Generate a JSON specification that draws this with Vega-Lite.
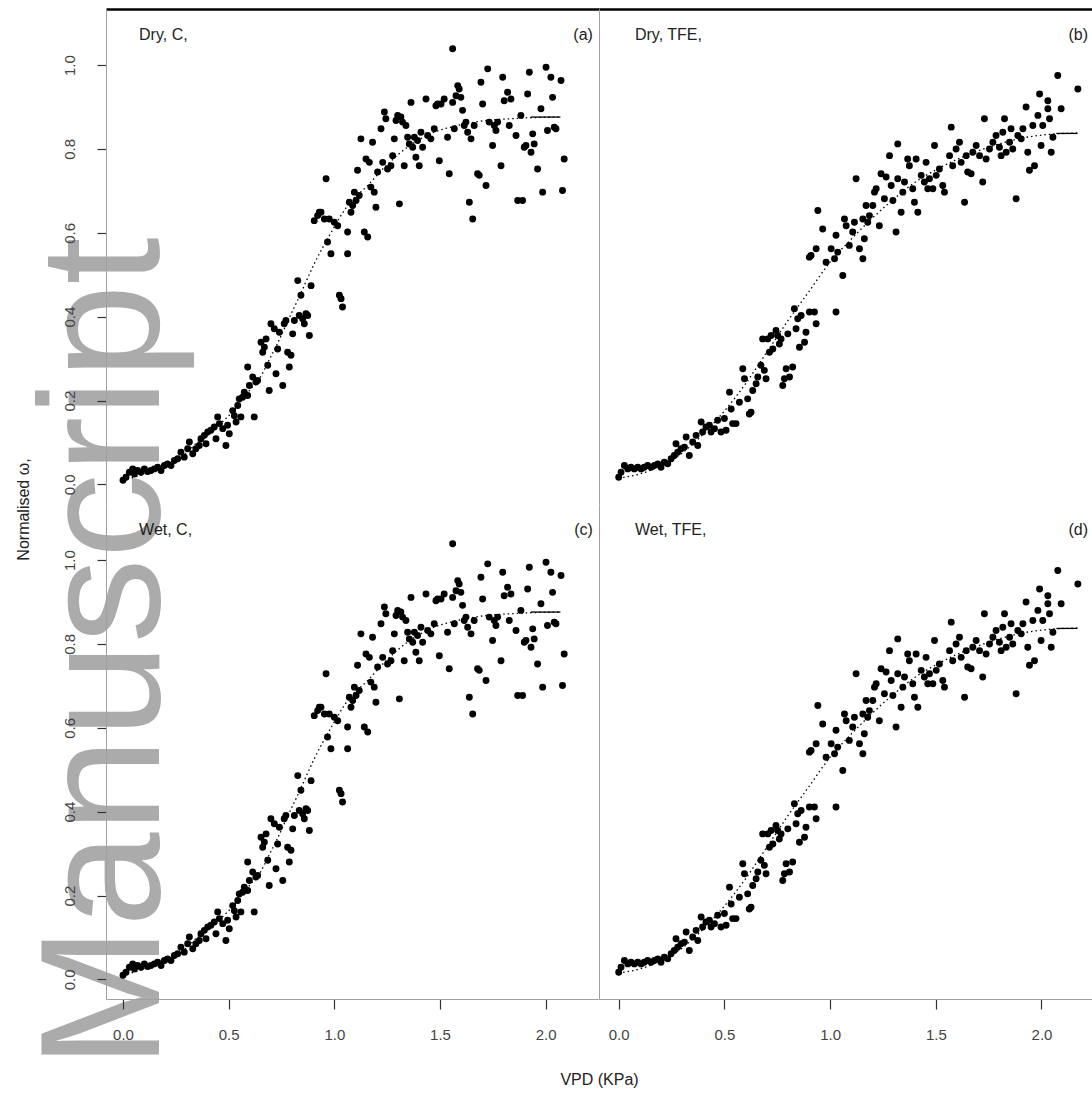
{
"$schema": "https://vega.github.io/schema/vega-lite/v6.json",
"background": "white",
"padding": {"left": 14, "top": 9, "right": 0, "bottom": 4},
"autosize": {"type": "pad"},
"bounds": "flush",
"spacing": 0,
"columns": 2,
"datasets": {
"A": [
{"v":0.0,"g":0.010},{"v":0.014,"g":0.017},{"v":0.030,"g":0.029},{"v":0.046,"g":0.037},{"v":0.054,"g":0.025},{"v":0.069,"g":0.033},{"v":0.085,"g":0.029},{"v":0.101,"g":0.037},{"v":0.117,"g":0.031},{"v":0.132,"g":0.033},{"v":0.148,"g":0.037},{"v":0.164,"g":0.041},{"v":0.180,"g":0.033},{"v":0.196,"g":0.045},{"v":0.211,"g":0.049},{"v":0.227,"g":0.045},{"v":0.243,"g":0.057},{"v":0.259,"g":0.061},{"v":0.274,"g":0.077},{"v":0.290,"g":0.065},{"v":0.306,"g":0.085},{"v":0.314,"g":0.101},{"v":0.330,"g":0.073},{"v":0.345,"g":0.085},{"v":0.361,"g":0.093},{"v":0.369,"g":0.109},{"v":0.385,"g":0.117},{"v":0.393,"g":0.097},{"v":0.401,"g":0.125},{"v":0.416,"g":0.129},{"v":0.432,"g":0.137},{"v":0.440,"g":0.109},{"v":0.448,"g":0.161},{"v":0.456,"g":0.145},{"v":0.472,"g":0.133},{"v":0.487,"g":0.093},{"v":0.495,"g":0.141},{"v":0.503,"g":0.121},{"v":0.519,"g":0.176},{"v":0.527,"g":0.164},{"v":0.535,"g":0.149},{"v":0.543,"g":0.188},{"v":0.550,"g":0.204},{"v":0.558,"g":0.161},{"v":0.566,"g":0.208},{"v":0.574,"g":0.220},{"v":0.590,"g":0.212},{"v":0.598,"g":0.236},{"v":0.590,"g":0.280},{"v":0.614,"g":0.256},{"v":0.621,"g":0.161},{"v":0.629,"g":0.244},{"v":0.637,"g":0.248},{"v":0.653,"g":0.339},{"v":0.661,"g":0.315},{"v":0.669,"g":0.327},{"v":0.677,"g":0.347},{"v":0.685,"g":0.284},{"v":0.692,"g":0.224},{"v":0.700,"g":0.383},{"v":0.716,"g":0.371},{"v":0.724,"g":0.264},{"v":0.732,"g":0.323},{"v":0.740,"g":0.363},{"v":0.756,"g":0.236},{"v":0.763,"g":0.383},{"v":0.771,"g":0.391},{"v":0.779,"g":0.315},{"v":0.787,"g":0.280},{"v":0.795,"g":0.308},{"v":0.803,"g":0.359},{"v":0.811,"g":0.391},{"v":0.827,"g":0.486},{"v":0.834,"g":0.403},{"v":0.842,"g":0.451},{"v":0.850,"g":0.395},{"v":0.858,"g":0.383},{"v":0.866,"g":0.407},{"v":0.874,"g":0.403},{"v":0.882,"g":0.355},{"v":0.890,"g":0.474},{"v":0.905,"g":0.629},{"v":0.921,"g":0.641},{"v":0.929,"g":0.649},{"v":0.937,"g":0.649},{"v":0.953,"g":0.633},{"v":0.961,"g":0.729},{"v":0.968,"g":0.578},{"v":0.976,"g":0.633},{"v":0.984,"g":0.550},{"v":1.000,"g":0.625},{"v":1.016,"g":0.617},{"v":1.024,"g":0.451},{"v":1.032,"g":0.443},{"v":1.039,"g":0.423},{"v":1.063,"g":0.602},{"v":1.063,"g":0.550},{"v":1.071,"g":0.673},{"v":1.079,"g":0.649},{"v":1.087,"g":0.665},{"v":1.095,"g":0.697},{"v":1.103,"g":0.677},{"v":1.110,"g":0.749},{"v":1.118,"g":0.689},{"v":1.126,"g":0.824},{"v":1.142,"g":0.602},{"v":1.150,"g":0.776},{"v":1.158,"g":0.590},{"v":1.166,"g":0.768},{"v":1.173,"g":0.709},{"v":1.181,"g":0.816},{"v":1.189,"g":0.697},{"v":1.197,"g":0.661},{"v":1.205,"g":0.745},{"v":1.221,"g":0.848},{"v":1.229,"g":0.768},{"v":1.237,"g":0.888},{"v":1.244,"g":0.872},{"v":1.252,"g":0.752},{"v":1.268,"g":0.760},{"v":1.276,"g":0.784},{"v":1.284,"g":0.824},{"v":1.292,"g":0.868},{"v":1.300,"g":0.880},{"v":1.308,"g":0.669},{"v":1.315,"g":0.876},{"v":1.323,"g":0.864},{"v":1.331,"g":0.760},{"v":1.339,"g":0.856},{"v":1.347,"g":0.828},{"v":1.355,"g":0.812},{"v":1.363,"g":0.911},{"v":1.371,"g":0.804},{"v":1.379,"g":0.828},{"v":1.386,"g":0.780},{"v":1.394,"g":0.820},{"v":1.402,"g":0.760},{"v":1.410,"g":0.840},{"v":1.418,"g":0.804},{"v":1.434,"g":0.919},{"v":1.442,"g":0.832},{"v":1.457,"g":0.824},{"v":1.473,"g":0.848},{"v":1.481,"g":0.903},{"v":1.489,"g":0.907},{"v":1.497,"g":0.772},{"v":1.505,"g":0.907},{"v":1.520,"g":0.919},{"v":1.536,"g":0.828},{"v":1.544,"g":0.741},{"v":1.560,"g":1.039},{"v":1.560,"g":0.911},{"v":1.568,"g":0.848},{"v":1.576,"g":0.927},{"v":1.584,"g":0.951},{"v":1.591,"g":0.943},{"v":1.599,"g":0.923},{"v":1.607,"g":0.892},{"v":1.615,"g":0.856},{"v":1.623,"g":0.864},{"v":1.631,"g":0.840},{"v":1.639,"g":0.673},{"v":1.647,"g":0.824},{"v":1.655,"g":0.633},{"v":1.662,"g":0.856},{"v":1.678,"g":0.741},{"v":1.686,"g":0.737},{"v":1.694,"g":0.959},{"v":1.702,"g":0.907},{"v":1.718,"g":0.713},{"v":1.726,"g":0.991},{"v":1.733,"g":0.864},{"v":1.749,"g":0.808},{"v":1.757,"g":0.856},{"v":1.765,"g":0.844},{"v":1.773,"g":0.864},{"v":1.789,"g":0.760},{"v":1.797,"g":0.971},{"v":1.804,"g":0.915},{"v":1.820,"g":0.935},{"v":1.828,"g":0.856},{"v":1.836,"g":0.919},{"v":1.860,"g":0.832},{"v":1.868,"g":0.677},{"v":1.883,"g":0.880},{"v":1.891,"g":0.677},{"v":1.899,"g":0.804},{"v":1.907,"g":0.808},{"v":1.915,"g":0.931},{"v":1.923,"g":0.983},{"v":1.931,"g":0.792},{"v":1.939,"g":0.836},{"v":1.946,"g":0.812},{"v":1.962,"g":0.752},{"v":1.978,"g":0.896},{"v":1.986,"g":0.697},{"v":2.002,"g":0.995},{"v":2.009,"g":0.844},{"v":2.025,"g":0.971},{"v":2.033,"g":0.923},{"v":2.041,"g":0.852},{"v":2.049,"g":0.848},{"v":2.073,"g":0.963},{"v":2.080,"g":0.701},{"v":2.088,"g":0.776}
],
"B": [
{"v":0.0,"g":0.017},{"v":0.011,"g":0.029},{"v":0.027,"g":0.045},{"v":0.043,"g":0.037},{"v":0.058,"g":0.041},{"v":0.074,"g":0.037},{"v":0.090,"g":0.041},{"v":0.106,"g":0.037},{"v":0.121,"g":0.041},{"v":0.137,"g":0.045},{"v":0.153,"g":0.041},{"v":0.169,"g":0.045},{"v":0.185,"g":0.049},{"v":0.200,"g":0.041},{"v":0.216,"g":0.053},{"v":0.232,"g":0.049},{"v":0.248,"g":0.061},{"v":0.263,"g":0.069},{"v":0.271,"g":0.097},{"v":0.279,"g":0.077},{"v":0.295,"g":0.085},{"v":0.311,"g":0.089},{"v":0.319,"g":0.113},{"v":0.334,"g":0.069},{"v":0.350,"g":0.101},{"v":0.366,"g":0.117},{"v":0.374,"g":0.093},{"v":0.390,"g":0.149},{"v":0.397,"g":0.125},{"v":0.413,"g":0.137},{"v":0.429,"g":0.141},{"v":0.437,"g":0.125},{"v":0.453,"g":0.133},{"v":0.468,"g":0.153},{"v":0.484,"g":0.125},{"v":0.500,"g":0.157},{"v":0.508,"g":0.129},{"v":0.524,"g":0.220},{"v":0.532,"g":0.180},{"v":0.539,"g":0.145},{"v":0.555,"g":0.145},{"v":0.571,"g":0.196},{"v":0.587,"g":0.276},{"v":0.595,"g":0.252},{"v":0.610,"g":0.204},{"v":0.618,"g":0.168},{"v":0.626,"g":0.172},{"v":0.634,"g":0.224},{"v":0.650,"g":0.240},{"v":0.658,"g":0.256},{"v":0.673,"g":0.284},{"v":0.681,"g":0.347},{"v":0.689,"g":0.272},{"v":0.697,"g":0.252},{"v":0.705,"g":0.347},{"v":0.713,"g":0.315},{"v":0.721,"g":0.355},{"v":0.729,"g":0.323},{"v":0.744,"g":0.367},{"v":0.752,"g":0.355},{"v":0.760,"g":0.335},{"v":0.768,"g":0.347},{"v":0.776,"g":0.236},{"v":0.784,"g":0.252},{"v":0.792,"g":0.276},{"v":0.800,"g":0.359},{"v":0.808,"g":0.256},{"v":0.823,"g":0.280},{"v":0.831,"g":0.419},{"v":0.839,"g":0.371},{"v":0.847,"g":0.395},{"v":0.855,"g":0.327},{"v":0.863,"g":0.403},{"v":0.879,"g":0.339},{"v":0.886,"g":0.363},{"v":0.902,"g":0.411},{"v":0.926,"g":0.411},{"v":0.934,"g":0.383},{"v":0.942,"g":0.653},{"v":0.965,"g":0.609},{"v":0.981,"g":0.530},{"v":0.902,"g":0.542},{"v":0.910,"g":0.546},{"v":0.934,"g":0.562},{"v":1.005,"g":0.562},{"v":1.021,"g":0.538},{"v":1.028,"g":0.411},{"v":1.028,"g":0.594},{"v":1.036,"g":0.554},{"v":1.060,"g":0.498},{"v":1.068,"g":0.633},{"v":1.076,"g":0.617},{"v":1.091,"g":0.570},{"v":1.107,"g":0.602},{"v":1.115,"g":0.625},{"v":1.123,"g":0.729},{"v":1.139,"g":0.562},{"v":1.155,"g":0.538},{"v":1.162,"g":0.586},{"v":1.155,"g":0.633},{"v":1.170,"g":0.665},{"v":1.178,"g":0.625},{"v":1.186,"g":0.641},{"v":1.202,"g":0.665},{"v":1.210,"g":0.697},{"v":1.218,"g":0.705},{"v":1.233,"g":0.617},{"v":1.241,"g":0.741},{"v":1.257,"g":0.681},{"v":1.265,"g":0.733},{"v":1.281,"g":0.784},{"v":1.289,"g":0.713},{"v":1.297,"g":0.677},{"v":1.312,"g":0.602},{"v":1.320,"g":0.812},{"v":1.320,"g":0.729},{"v":1.336,"g":0.649},{"v":1.344,"g":0.697},{"v":1.352,"g":0.721},{"v":1.367,"g":0.776},{"v":1.375,"g":0.760},{"v":1.391,"g":0.705},{"v":1.399,"g":0.673},{"v":1.407,"g":0.776},{"v":1.415,"g":0.649},{"v":1.431,"g":0.737},{"v":1.446,"g":0.721},{"v":1.454,"g":0.768},{"v":1.462,"g":0.705},{"v":1.470,"g":0.729},{"v":1.486,"g":0.705},{"v":1.494,"g":0.808},{"v":1.502,"g":0.737},{"v":1.517,"g":0.752},{"v":1.533,"g":0.713},{"v":1.541,"g":0.697},{"v":1.565,"g":0.784},{"v":1.573,"g":0.852},{"v":1.580,"g":0.760},{"v":1.596,"g":0.800},{"v":1.612,"g":0.816},{"v":1.620,"g":0.768},{"v":1.636,"g":0.673},{"v":1.644,"g":0.784},{"v":1.651,"g":0.745},{"v":1.667,"g":0.741},{"v":1.675,"g":0.792},{"v":1.691,"g":0.808},{"v":1.707,"g":0.784},{"v":1.722,"g":0.721},{"v":1.730,"g":0.872},{"v":1.738,"g":0.776},{"v":1.754,"g":0.800},{"v":1.770,"g":0.816},{"v":1.785,"g":0.832},{"v":1.801,"g":0.804},{"v":1.809,"g":0.784},{"v":1.817,"g":0.840},{"v":1.825,"g":0.872},{"v":1.833,"g":0.792},{"v":1.849,"g":0.816},{"v":1.856,"g":0.848},{"v":1.864,"g":0.800},{"v":1.880,"g":0.681},{"v":1.888,"g":0.832},{"v":1.904,"g":0.824},{"v":1.912,"g":0.848},{"v":1.927,"g":0.900},{"v":1.935,"g":0.792},{"v":1.943,"g":0.749},{"v":1.959,"g":0.856},{"v":1.967,"g":0.760},{"v":1.983,"g":0.880},{"v":1.991,"g":0.931},{"v":1.998,"g":0.808},{"v":2.006,"g":0.856},{"v":2.030,"g":0.915},{"v":2.030,"g":0.896},{"v":2.038,"g":0.872},{"v":2.046,"g":0.792},{"v":2.054,"g":0.828},{"v":2.077,"g":0.975},{"v":2.093,"g":0.896},{"v":2.172,"g":0.943}
],
"fitA": [
{"v":0.0,"g":0.010},{"v":0.1,"g":0.025},{"v":0.2,"g":0.045},{"v":0.3,"g":0.075},{"v":0.37,"g":0.11},{"v":0.45,"g":0.14},{"v":0.53,"g":0.18},{"v":0.6,"g":0.225},{"v":0.64,"g":0.248},{"v":0.7,"g":0.305},{"v":0.73,"g":0.335},{"v":0.78,"g":0.39},{"v":0.83,"g":0.443},{"v":0.905,"g":0.526},{"v":0.984,"g":0.6},{"v":1.063,"g":0.665},{"v":1.158,"g":0.713},{"v":1.237,"g":0.756},{"v":1.315,"g":0.792},{"v":1.394,"g":0.82},{"v":1.473,"g":0.84},{"v":1.568,"g":0.854},{"v":1.678,"g":0.865},{"v":1.868,"g":0.873},{"v":2.073,"g":0.876}
],
"segA": [{"v":1.93,"g":0.876},{"v":2.07,"g":0.876}],
"fitB": [
{"v":0.0,"g":0.015},{"v":0.1,"g":0.025},{"v":0.2,"g":0.045},{"v":0.3,"g":0.075},{"v":0.4,"g":0.12},{"v":0.5,"g":0.175},{"v":0.6,"g":0.24},{"v":0.7,"g":0.315},{"v":0.8,"g":0.39},{"v":0.9,"g":0.46},{"v":1.0,"g":0.53},{"v":1.1,"g":0.585},{"v":1.2,"g":0.635},{"v":1.3,"g":0.68},{"v":1.4,"g":0.72},{"v":1.5,"g":0.75},{"v":1.6,"g":0.775},{"v":1.7,"g":0.795},{"v":1.8,"g":0.812},{"v":1.9,"g":0.825},{"v":2.0,"g":0.833},{"v":2.17,"g":0.838}
],
"segB": [{"v":2.07,"g":0.837},{"v":2.17,"g":0.837}]
},
"concat": [
{
"width": 493, "height": 495,
"encoding": {
"x": {"field": "v", "type": "quantitative", "scale": {"domain": [-0.0805, 2.2527], "nice": false, "zero": false},
 "axis": {"orient": "top", "domain": true, "domainColor": "#000000", "domainWidth": 2.5, "ticks": false, "labels": false, "title": null, "zindex": 1}},
"y": {"field": "g", "type": "quantitative", "scale": {"domain": [-0.0467, 1.1337], "nice": false, "zero": false},
 "axis": {"values": [0, 0.2, 0.4, 0.6, 0.8, 1], "format": ".1f", "labelAngle": 270, "labelAlign": "center", "labelBaseline": "bottom", "tickSize": 9, "labelPadding": 20, "title": null, "zindex": 1}}
},
"layer": [
{"data": {"values": [{"v": 0.170, "g": -1.393, "t": "Manuscript"}]}, "mark": {"type": "text", "angle": 270, "align": "left", "baseline": "alphabetic", "fontSize": 170, "font": "Liberation Sans", "color": "#808080", "opacity": 0.66}, "encoding": {"text": {"field": "t"}}},
{"data": {"name": "A"}, "mark": {"type": "circle", "size": 48, "color": "#000000", "opacity": 1}},
{"data": {"name": "fitA"}, "mark": {"type": "line", "color": "#000000", "strokeWidth": 1.3, "strokeDash": [1.5, 3], "interpolate": "monotone"}},
{"data": {"name": "segA"}, "mark": {"type": "line", "color": "#000000", "strokeWidth": 1.3}},
{"data": {"values": [{"v": 0.076, "g": 1.0718, "t": "Dry, C,"}]}, "mark": {"type": "text", "align": "left", "baseline": "middle", "fontSize": 16, "color": "#222222"}, "encoding": {"text": {"field": "t"}}},
{"data": {"values": [{"v": 2.224, "g": 1.0718, "t": "(a)"}]}, "mark": {"type": "text", "align": "right", "baseline": "middle", "fontSize": 16, "color": "#222222"}, "encoding": {"text": {"field": "t"}}}
]
},
{
"width": 493, "height": 495,
"encoding": {
"x": {"field": "v", "type": "quantitative", "scale": {"domain": [-0.0932, 2.2389], "nice": false, "zero": false},
 "axis": {"orient": "top", "domain": true, "domainColor": "#000000", "domainWidth": 2.5, "ticks": false, "labels": false, "title": null, "zindex": 1}},
"y": {"field": "g", "type": "quantitative", "scale": {"domain": [-0.0467, 1.1337], "nice": false, "zero": false},
 "axis": {"ticks": false, "labels": false, "title": null, "zindex": 1}}
},
"layer": [
{"data": {"name": "B"}, "mark": {"type": "circle", "size": 48, "color": "#000000", "opacity": 1}},
{"data": {"name": "fitB"}, "mark": {"type": "line", "color": "#000000", "strokeWidth": 1.3, "strokeDash": [1.5, 3], "interpolate": "monotone"}},
{"data": {"name": "segB"}, "mark": {"type": "line", "color": "#000000", "strokeWidth": 1.3}},
{"data": {"values": [{"v": 0.077, "g": 1.0718, "t": "Dry, TFE,"}]}, "mark": {"type": "text", "align": "left", "baseline": "middle", "fontSize": 16, "color": "#222222"}, "encoding": {"text": {"field": "t"}}},
{"data": {"values": [{"v": 2.220, "g": 1.0718, "t": "(b)"}]}, "mark": {"type": "text", "align": "right", "baseline": "middle", "fontSize": 16, "color": "#222222"}, "encoding": {"text": {"field": "t"}}}
]
},
{
"width": 493, "height": 495,
"encoding": {
"x": {"field": "v", "type": "quantitative", "scale": {"domain": [-0.0805, 2.2527], "nice": false, "zero": false},
 "axis": {"values": [0, 0.5, 1, 1.5, 2], "format": ".1f", "tickSize": 10, "labelPadding": 18, "title": "VPD (KPa)", "titleX": 493, "titleY": 80, "titleAlign": "center", "titleBaseline": "middle", "zindex": 1}},
"y": {"field": "g", "type": "quantitative", "scale": {"domain": [-0.0467, 1.1337], "nice": false, "zero": false},
 "axis": {"values": [0, 0.2, 0.4, 0.6, 0.8, 1], "format": ".1f", "labelAngle": 270, "labelAlign": "center", "labelBaseline": "bottom", "tickSize": 9, "labelPadding": 20, "title": "Normalised ω,", "titleX": -83, "titleY": 5, "titleAngle": 270, "titleAlign": "center", "titleBaseline": "middle", "zindex": 1}}
},
"layer": [
{"data": {"name": "A"}, "mark": {"type": "circle", "size": 48, "color": "#000000", "opacity": 1}},
{"data": {"name": "fitA"}, "mark": {"type": "line", "color": "#000000", "strokeWidth": 1.3, "strokeDash": [1.5, 3], "interpolate": "monotone"}},
{"data": {"name": "segA"}, "mark": {"type": "line", "color": "#000000", "strokeWidth": 1.3}},
{"data": {"values": [{"v": 0.076, "g": 1.0718, "t": "Wet, C,"}]}, "mark": {"type": "text", "align": "left", "baseline": "middle", "fontSize": 16, "color": "#222222"}, "encoding": {"text": {"field": "t"}}},
{"data": {"values": [{"v": 2.224, "g": 1.0718, "t": "(c)"}]}, "mark": {"type": "text", "align": "right", "baseline": "middle", "fontSize": 16, "color": "#222222"}, "encoding": {"text": {"field": "t"}}}
]
},
{
"width": 493, "height": 495,
"encoding": {
"x": {"field": "v", "type": "quantitative", "scale": {"domain": [-0.0932, 2.2389], "nice": false, "zero": false},
 "axis": {"values": [0, 0.5, 1, 1.5, 2], "format": ".1f", "tickSize": 10, "labelPadding": 18, "title": null, "zindex": 1}},
"y": {"field": "g", "type": "quantitative", "scale": {"domain": [-0.0467, 1.1337], "nice": false, "zero": false},
 "axis": {"ticks": false, "labels": false, "title": null, "zindex": 1}}
},
"layer": [
{"data": {"name": "B"}, "mark": {"type": "circle", "size": 48, "color": "#000000", "opacity": 1}},
{"data": {"name": "fitB"}, "mark": {"type": "line", "color": "#000000", "strokeWidth": 1.3, "strokeDash": [1.5, 3], "interpolate": "monotone"}},
{"data": {"name": "segB"}, "mark": {"type": "line", "color": "#000000", "strokeWidth": 1.3}},
{"data": {"values": [{"v": 0.077, "g": 1.0718, "t": "Wet, TFE,"}]}, "mark": {"type": "text", "align": "left", "baseline": "middle", "fontSize": 16, "color": "#222222"}, "encoding": {"text": {"field": "t"}}},
{"data": {"values": [{"v": 2.220, "g": 1.0718, "t": "(d)"}]}, "mark": {"type": "text", "align": "right", "baseline": "middle", "fontSize": 16, "color": "#222222"}, "encoding": {"text": {"field": "t"}}}
]
}
],
"config": {
"view": {"stroke": null},
"text": {"font": "Liberation Sans"},
"axis": {"labelFont": "Liberation Sans", "titleFont": "Liberation Sans", "labelFontSize": 15, "titleFontSize": 16, "labelColor": "#444444", "titleColor": "#222222", "titleFontWeight": "normal", "tickColor": "#333333", "tickWidth": 1.2, "domainColor": "#a0a0a0", "domainWidth": 1, "grid": false, "labelOverlap": false, "labelFlush": false}
}
}
